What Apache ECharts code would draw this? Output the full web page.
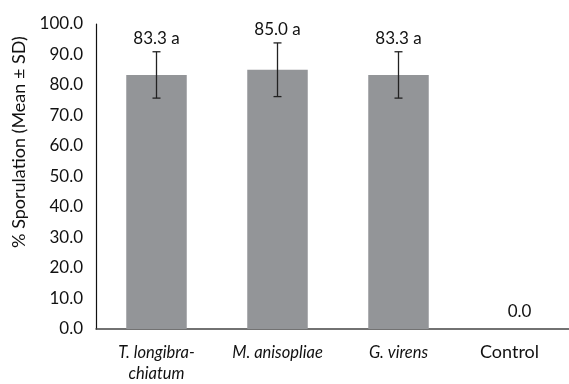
<!DOCTYPE html>
<html><head><meta charset="utf-8">
<script src="https://cdn.jsdelivr.net/npm/echarts@6/dist/echarts.min.js"></script>
<style>html,body{margin:0;padding:0;background:#fff;overflow:hidden;width:569px;height:384px}#c{width:580px;height:384px}</style>
</head><body><div id="c"></div>
<script>
const categories = ["T. longibra-\nchiatum", "M. anisopliae", "G. virens", "Control"];
const means = [83.3, 85.0, 83.3, 0.0];
const sds = [7.6, 8.8, 7.6, 0];
const barLabels = ["83.3 a", "85.0 a", "83.3 a", "0.0"];
const yTicks = [0, 10, 20, 30, 40, 50, 60, 70, 80, 90, 100];
const yTitle = "% Sporulation (Mean ± SD)";

const FONT = "Lato";
const chart = echarts.init(document.getElementById('c'), null, {renderer: 'canvas'});
chart.setOption({
  animation: false,
  graphic: [{type: 'text', x: 19, y: 142, rotation: Math.PI / 2,
    style: {text: yTitle, fontFamily: FONT, fontSize: 18, fill: '#111', align: 'center', verticalAlign: 'middle'}}],
  grid: {left: 96, right: 0, top: 24, bottom: 53, containLabel: false},
  xAxis: {
    type: 'category', data: categories,
    axisLine: {lineStyle: {color: '#444', width: 1.5}},
    axisTick: {show: false},
    axisLabel: {
      interval: 0, color: '#111', fontFamily: FONT, fontSize: 16, margin: 13, lineHeight: 21,
      formatter: function (v) { return v === 'Control' ? '{n|' + v + '}' : v.split('\n').map(s => '{i|' + s + '}').join('\n'); },
      rich: {i: {fontStyle: 'italic', fontFamily: FONT, fontSize: 16.5, color: '#111', lineHeight: 21},
             n: {fontFamily: FONT, fontSize: 18, color: '#111', lineHeight: 21, padding: [0, 20, 0, 0]}}
    }
  },
  yAxis: {
    type: 'value', min: yTicks[0], max: yTicks[yTicks.length - 1], interval: 10,
    axisLine: {show: true, lineStyle: {color: '#111', width: 1.2}},
    axisTick: {show: false}, splitLine: {show: false},
    axisLabel: {color: '#111', fontFamily: FONT, fontSize: 17, margin: 13, formatter: v => v.toFixed(1)}
  },
  series: [
    {type: 'bar', data: means, barWidth: '50%', itemStyle: {color: '#939598'}, z: 2},
    {type: 'custom', z: 5, data: means.map((m, i) => [i, m, sds[i]]),
     renderItem: function (params, api) {
       const x = api.coord([api.value(0), 0])[0];
       const m = api.value(1), sd = api.value(2);
       const top = api.coord([api.value(0), m + sd])[1];
       const bot = api.coord([api.value(0), m - sd])[1];
       const cw = 4;
       const st = {stroke: '#222', lineWidth: 1.3};
       const children = [];
       if (sd > 0) {
         children.push({type: 'line', shape: {x1: x, y1: top, x2: x, y2: bot}, style: st});
         children.push({type: 'line', shape: {x1: x - cw, y1: top, x2: x + cw, y2: top}, style: st});
         children.push({type: 'line', shape: {x1: x - cw, y1: bot, x2: x + cw, y2: bot}, style: st});
       }
       children.push({type: 'text', x: x, y: top - (sd > 0 ? 5 : 9),
         style: {text: barLabels[params.dataIndex], fontFamily: FONT, fontSize: 17, fill: '#111', align: 'center', verticalAlign: 'bottom'}});
       return {type: 'group', children: children};
     }}
  ]
});
</script></body></html>
